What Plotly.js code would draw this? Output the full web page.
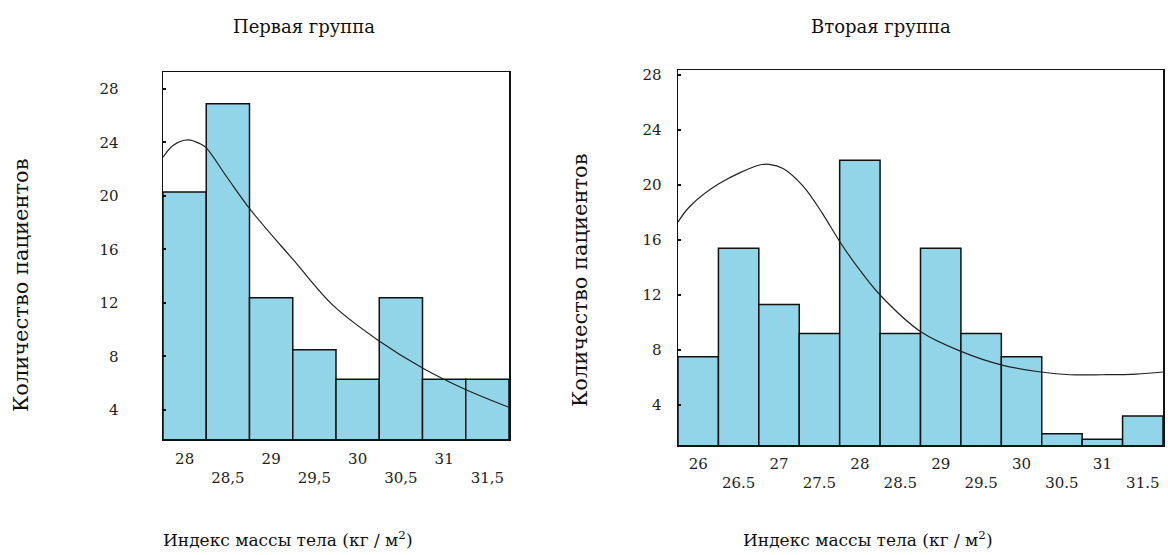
<!DOCTYPE html>
<html>
<head>
<meta charset="utf-8">
<script src="https://cdn.plot.ly/plotly-3.0.1.min.js"></script>
<style>
html,body{margin:0;padding:0;background:#fff;}
#chart{width:1168px;height:555px;}
</style>
</head>
<body>
<div id="chart"></div>
<script>
// ---- Data: first group ----
const g1Bins = [28, 28.5, 29, 29.5, 30, 30.5, 31, 31.5];
const g1Counts = [20.3, 26.9, 12.4, 8.5, 6.3, 12.4, 6.3, 6.3];
const g1CurveX = [27.75, 27.87, 28.04, 28.18, 28.25, 28.49, 28.77, 29.26, 29.72, 30.24, 30.76, 31.24, 31.75];
const g1CurveY = [22.9, 23.8, 24.2, 23.9, 23.6, 21.4, 18.9, 15.2, 11.8, 9.2, 7.1, 5.55, 4.2];
const g1IntTicks = [28, 29, 30, 31];
const g1IntText = ['28', '29', '30', '31'];
const g1HalfTicks = [28.5, 29.5, 30.5, 31.5];
const g1HalfText = ['28,5', '29,5', '30,5', '31,5'];

// ---- Data: second group ----
const g2Bins = [26, 26.5, 27, 27.5, 28, 28.5, 29, 29.5, 30, 30.5, 31, 31.5];
const g2Counts = [7.5, 15.4, 11.3, 9.2, 21.8, 9.2, 15.4, 9.2, 7.5, 1.9, 1.5, 3.2];
const g2CurveX = [25.75, 25.89, 26.26, 26.76, 26.88, 27.05, 27.3, 27.54, 27.76, 28.0, 28.25, 28.76, 29.25, 29.76, 30.24, 30.6, 31.0, 31.42, 31.75];
const g2CurveY = [17.3, 18.4, 20.1, 21.45, 21.5, 21.2, 19.9, 17.9, 15.8, 13.8, 12.0, 9.3, 7.9, 6.9, 6.4, 6.2, 6.2, 6.25, 6.4];
const g2IntTicks = [26, 27, 28, 29, 30, 31];
const g2IntText = ['26', '27', '28', '29', '30', '31'];
const g2HalfTicks = [26.5, 27.5, 28.5, 29.5, 30.5, 31.5];
const g2HalfText = ['26.5', '27.5', '28.5', '29.5', '30.5', '31.5'];

const yTicks = [4, 8, 12, 16, 20, 24, 28];
const yTickText = ['4', '8', '12', '16', '20', '24', '28'];

const titles = ['Первая группа', 'Вторая группа'];
const xTitle = 'Индекс массы тела (кг / м<sup>2</sup>)';
const yTitle = 'Количество пациентов';

// ---- Layout helpers (pixel geometry) ----
const W = 1168, H = 555;
const px = v => v / W;
const py = v => 1 - v / H;

const barColor = 'rgb(146,212,232)';
const tickFont = {family: 'DejaVu Serif', size: 15, color: '#222'};
const textFont = {family: 'DejaVu Serif', size: 18, color: '#111'};
const xTitleFont = {family: 'DejaVu Serif', size: 17, color: '#111'};
const yTitleFont = {family: 'DejaVu Serif', size: 21, color: '#111'};

const traces = [
  {type: 'bar', x: g1Bins, y: g1Counts, width: 0.5, xaxis: 'x', yaxis: 'y',
   marker: {color: barColor, line: {color: '#111', width: 1.5}}, hoverinfo: 'x+y'},
  {type: 'scatter', mode: 'lines', x: g1CurveX, y: g1CurveY, xaxis: 'x', yaxis: 'y',
   line: {color: '#222', width: 1.2, shape: 'spline'}},
  {type: 'scatter', x: [], y: [], xaxis: 'x3', yaxis: 'y', hoverinfo: 'skip'},
  {type: 'bar', x: g2Bins, y: g2Counts, width: 0.5, xaxis: 'x2', yaxis: 'y2',
   marker: {color: barColor, line: {color: '#111', width: 1.5}}, hoverinfo: 'x+y'},
  {type: 'scatter', mode: 'lines', x: g2CurveX, y: g2CurveY, xaxis: 'x2', yaxis: 'y2',
   line: {color: '#222', width: 1.2, shape: 'spline'}},
  {type: 'scatter', x: [], y: [], xaxis: 'x4', yaxis: 'y2', hoverinfo: 'skip'}
];

const axBase = {showgrid: false, zeroline: false, showline: true, linecolor: '#111',
  linewidth: 1.5, mirror: true, tickfont: tickFont, fixedrange: true};

const layout = {
  width: W, height: H,
  margin: {l: 0, r: 0, t: 0, b: 0},
  paper_bgcolor: '#fff', plot_bgcolor: '#fff',
  showlegend: false, bargap: 0,
  xaxis: Object.assign({}, axBase, {domain: [px(163), px(509)], anchor: 'y', range: [27.75, 31.75],
    tickmode: 'array', tickvals: g1IntTicks, ticktext: g1IntText, ticks: '', ticklabelstandoff: 5}),
  xaxis3: {overlaying: 'x', anchor: 'y', side: 'bottom', range: [27.75, 31.75], showgrid: false,
    zeroline: false, showline: false, tickmode: 'array', tickvals: g1HalfTicks, ticktext: g1HalfText,
    ticks: '', tickfont: tickFont, ticklabelstandoff: 28, fixedrange: true},
  yaxis: Object.assign({}, axBase, {domain: [py(439), py(72)], anchor: 'x', range: [1.83, 29.27],
    tickmode: 'array', tickvals: yTicks, ticktext: yTickText, ticks: 'inside', ticklen: 3, tickwidth: 2,
    tickcolor: '#111', ticklabelstandoff: 40}),
  xaxis2: Object.assign({}, axBase, {domain: [px(678), px(1163)], anchor: 'y2', range: [25.75, 31.75],
    tickmode: 'array', tickvals: g2IntTicks, ticktext: g2IntText, ticks: '', ticklabelstandoff: 4}),
  xaxis4: {overlaying: 'x2', anchor: 'y2', side: 'bottom', range: [25.75, 31.75], showgrid: false,
    zeroline: false, showline: false, tickmode: 'array', tickvals: g2HalfTicks, ticktext: g2HalfText,
    ticks: '', tickfont: tickFont, ticklabelstandoff: 27, fixedrange: true},
  yaxis2: Object.assign({}, axBase, {domain: [py(445), py(70)], anchor: 'x2', range: [1.09, 28.36],
    tickmode: 'array', tickvals: yTicks, ticktext: yTickText, ticks: 'inside', ticklen: 3, tickwidth: 2,
    tickcolor: '#111', ticklabelstandoff: 12}),
  annotations: [
    {text: titles[0], xref: 'paper', yref: 'paper', x: px(304), y: py(27), showarrow: false,
     xanchor: 'center', yanchor: 'middle', font: textFont},
    {text: titles[1], xref: 'paper', yref: 'paper', x: px(881), y: py(27), showarrow: false,
     xanchor: 'center', yanchor: 'middle', font: textFont},
    {text: xTitle, xref: 'paper', yref: 'paper', x: px(288), y: py(539), showarrow: false,
     xanchor: 'center', yanchor: 'middle', font: xTitleFont},
    {text: xTitle, xref: 'paper', yref: 'paper', x: px(868), y: py(539), showarrow: false,
     xanchor: 'center', yanchor: 'middle', font: xTitleFont},
    {text: yTitle, xref: 'paper', yref: 'paper', x: px(21), y: py(285), showarrow: false, textangle: -90,
     xanchor: 'center', yanchor: 'middle', font: yTitleFont},
    {text: yTitle, xref: 'paper', yref: 'paper', x: px(580), y: py(280), showarrow: false, textangle: -90,
     xanchor: 'center', yanchor: 'middle', font: yTitleFont}
  ]
};

Plotly.newPlot('chart', traces, layout, {displayModeBar: false, staticPlot: true});
</script>
</body>
</html>
